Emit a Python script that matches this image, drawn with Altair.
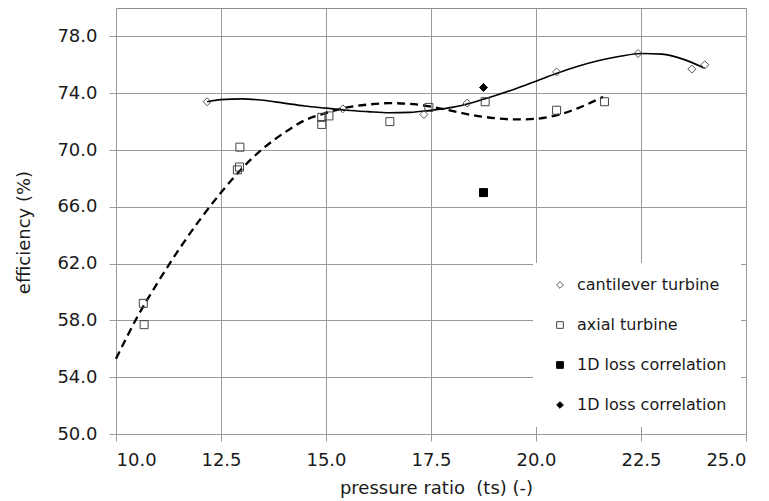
import altair as alt
import pandas as pd

# ---- data ----
cant_x = [12.17, 15.40, 17.33, 18.36, 20.49, 22.43, 23.71, 24.02]
cant_y = [73.4, 72.9, 72.5, 73.3, 75.5, 76.8, 75.7, 76.0]

axial_x = [10.65, 10.67, 12.95, 12.94, 12.89, 14.90, 14.90, 15.07, 16.52, 17.45, 18.79, 20.49, 21.63]
axial_y = [59.2, 57.7, 70.2, 68.8, 68.6, 72.3, 71.8, 72.4, 72.0, 73.0, 73.4, 72.8, 73.4]

loss_sq_x = [18.75]
loss_sq_y = [67.0]
loss_dia_x = [18.75]
loss_dia_y = [74.4]

# trend line (cantilever)
solid_x = [12.17, 12.5, 13.0, 13.5, 14.0, 14.5, 15.0, 15.5, 16.0, 16.5, 17.0, 17.5, 18.0,
           18.5, 19.0, 19.5, 20.0, 20.5, 21.0, 21.5, 22.0, 22.5, 23.0, 23.5, 24.02]
solid_y = [73.4, 73.55, 73.6, 73.5, 73.3, 73.1, 72.95, 72.8, 72.7, 72.62, 72.65, 72.8, 73.0,
           73.35, 73.8, 74.3, 74.85, 75.4, 75.9, 76.3, 76.6, 76.8, 76.75, 76.4, 75.75]

# trend line (axial)
dash_x = [10.0, 10.5, 11.0, 11.5, 12.0, 12.5, 13.0, 13.5, 14.0, 14.5, 15.0, 15.5, 16.0,
          16.5, 17.0, 17.5, 18.0, 18.5, 19.0, 19.5, 20.0, 20.5, 21.0, 21.6]
dash_y = [55.3, 58.2, 60.7, 63.0, 65.1, 67.0, 68.7, 70.1, 71.2, 72.1, 72.6, 73.0, 73.2,
          73.3, 73.25, 73.05, 72.75, 72.45, 72.25, 72.15, 72.2, 72.45, 72.95, 73.75]

series_keys = ["cantilever turbine", "axial turbine",
               "1D loss correlation (square)", "1D loss correlation (diamond)"]
x_ticks = [10.0, 12.5, 15.0, 17.5, 20.0, 22.5, 25.0]
y_ticks = [50, 54, 58, 62, 66, 70, 74, 78]

rows = []
for k, xs, ys in [(series_keys[0], cant_x, cant_y), (series_keys[1], axial_x, axial_y),
                  (series_keys[2], loss_sq_x, loss_sq_y), (series_keys[3], loss_dia_x, loss_dia_y)]:
    for a, b in zip(xs, ys):
        rows.append({"pr": a, "eff": b, "series": k})
pts = pd.DataFrame(rows)
solid_df = pd.DataFrame({"pr": solid_x, "eff": solid_y})
dash_df = pd.DataFrame({"pr": dash_x, "eff": dash_y})

FONT = "DejaVu Sans"
GRID = "#9a9a9a"

xenc = alt.X("pr:Q", scale=alt.Scale(domain=[10, 25], nice=False),
             axis=alt.Axis(values=x_ticks, format=".1f", title="pressure ratio\u00a0 (ts) (-)",
                           titleX=320, titleY=54, titleBaseline="middle"))
yenc = alt.Y("eff:Q", scale=alt.Scale(domain=[50, 80], nice=False, zero=False),
             axis=alt.Axis(values=y_ticks, format=".1f", title="efficiency (%)",
                           titleX=-92, titleY=224, titleBaseline="middle", titleAlign="center"))

leg = alt.Legend(orient="none", legendX=417, legendY=255, title=None, fillColor="white",
                 padding=14, symbolOffset=5, labelOffset=9, rowPadding=24,
                 labelFont=FONT, labelFontSize=16, labelColor="#1a1a1a",
                 symbolStrokeWidth=1, symbolSize=45,
                 labelExpr="indexof(datum.label, '1D') == 0 ? '1D loss correlation' : datum.label")

solid = alt.Chart(solid_df).mark_line(color="black", strokeWidth=1.6, interpolate="monotone").encode(
    x=xenc, y=yenc)
dashed = alt.Chart(dash_df).mark_line(color="black", strokeWidth=2.3, strokeDash=[8, 5],
                                      interpolate="monotone").encode(x=xenc, y=yenc)

points = alt.Chart(pts).mark_point(filled=True, opacity=1, strokeWidth=1, size=64).encode(
    x=xenc, y=yenc,
    shape=alt.Shape("series:N", scale=alt.Scale(domain=series_keys,
                    range=["diamond", "square", "square", "diamond"]), legend=leg),
    fill=alt.Fill("series:N", scale=alt.Scale(domain=series_keys,
                  range=["transparent", "transparent", "black", "black"]), legend=leg),
    stroke=alt.Stroke("series:N", scale=alt.Scale(domain=series_keys,
                      range=["#555555", "#444444", "black", "black"]), legend=leg),
)

chart = alt.layer(solid, dashed, points).properties(
    width=630, height=426,
    autosize=alt.AutoSizeParams(type="none"),
    padding={"left": 108, "top": 0, "right": 15, "bottom": 67},
).configure_view(stroke="#8c8c8c", strokeWidth=1).configure_axis(
    grid=True, gridColor=GRID, gridWidth=1, domain=False,
    tickColor=GRID, tickSize=7,
    labelFont=FONT, labelFontSize=18, labelColor="#1a1a1a",
    titleFont=FONT, titleFontSize=18, titleFontWeight="normal", titleColor="#1a1a1a",
).configure_axisY(labelPadding=12).configure_axisX(labelPadding=10)

chart.save("out.html", embed_options={"renderer": "svg", "actions": False})
